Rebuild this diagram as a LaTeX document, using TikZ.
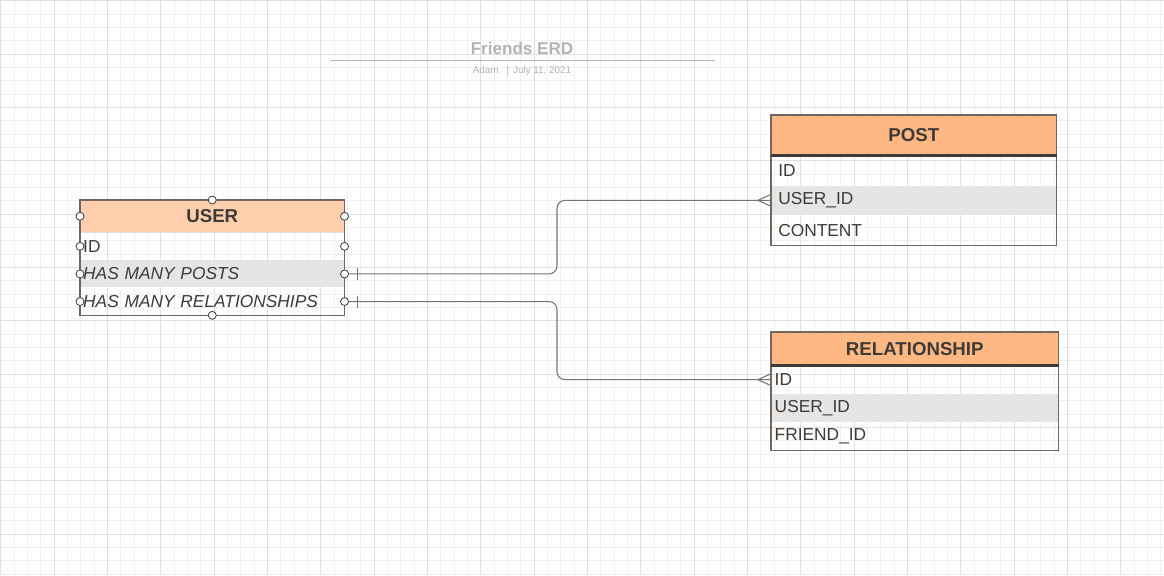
\documentclass[tikz,border=0pt]{standalone}
\usepackage{fontspec}
\setmainfont{Liberation Sans}
\usepackage{xcolor}
\usetikzlibrary{calc}

\definecolor{gridminor}{HTML}{F0F0F0}
\definecolor{gridmajor}{HTML}{E0E0E0}
\definecolor{erdtext}{HTML}{3E3A38}
\definecolor{erdline}{HTML}{72665F}
\definecolor{headlight}{HTML}{FFCFAE}
\definecolor{headdark}{HTML}{FFB783}
\definecolor{rowgray}{HTML}{E5E5E5}
\definecolor{titlegray}{HTML}{B3B3B3}
\definecolor{linkgray}{HTML}{7A7471}

\tikzset{
  erdhead/.style n args={3}{anchor=north west, inner sep=0pt, fill=#1,
    minimum width=#2, minimum height=#3, text=erdtext,
    font=\fontsize{14}{16}\selectfont\bfseries},
  erdrow/.style n args={3}{anchor=north west, inner ysep=0pt, inner xsep=#1,
    text width=#2, minimum height=#3, align=left, text=erdtext,
    font=\fontsize{13}{15}\selectfont},
  shaded/.style={fill=rowgray},
  erdbox/.style={draw=erdline, line width=0.8pt},
  handle/.style={draw=erdtext, fill=white, line width=0.6pt},
  link/.style={draw=linkgray, line width=0.8pt, rounded corners=6pt},
  tick/.style={draw=linkgray, line width=0.8pt},
}

\begin{document}
\begin{tikzpicture}[x=0.75pt,y=-0.75pt]
\useasboundingbox (0,0) rectangle (1164,575);
% background grid
\foreach \i in {0,...,88} \draw[gridminor,line width=0.5pt] ({0.7+\i*13.333},0) -- ({0.7+\i*13.333},575);
\foreach \i in {0,...,43} \draw[gridminor,line width=0.5pt] (0,{0.7+\i*13.333}) -- (1164,{0.7+\i*13.333});
\foreach \i in {0,...,22} \draw[gridmajor,line width=0.6pt] ({0.7+\i*53.333},0) -- ({0.7+\i*53.333},575);
\foreach \i in {0,...,10} \draw[gridmajor,line width=0.6pt] (0,{0.7+\i*53.333}) -- (1164,{0.7+\i*53.333});

% title block
\node[text=titlegray, font=\fontsize{12.8}{14}\selectfont\bfseries] (title) at (522,48) {Friends ERD};
\draw[titlegray, line width=0.6pt] (330,60) -- (715,60);
\node[text=titlegray, font=\fontsize{7.4}{9}\selectfont] (byline) at (522,71) {Adam\hspace{6pt}|\hspace{3pt}July 11, 2021};

% USER
\node[erdhead={headlight}{198pt}{24pt}] (userhead) at (80,200) {USER};
\node[erdrow={2.2pt}{193.6pt}{20.3pt}] (user-id) at (userhead.south west) {ID};
\node[erdrow={2.2pt}{193.6pt}{20.3pt}, shaded] (user-posts) at (user-id.south west) {\itshape HAS MANY POSTS};
\node[erdrow={2.2pt}{193.6pt}{20.3pt}] (user-rels) at (user-posts.south west) {\itshape HAS MANY RELATIONSHIPS};
\draw[erdbox] (userhead.north west) rectangle (user-rels.south east);
\draw[draw=gridmajor, line width=0.8pt] ([xshift=0.4pt]userhead.south west) -- ([xshift=-0.4pt]userhead.south east);

% POST
\node[erdhead={headdark}{213.75pt}{30pt}] (posthead) at (771,115) {POST};
\node[erdrow={5.25pt}{203.25pt}{22pt}] (post-id) at (posthead.south west) {ID};
\node[erdrow={5.25pt}{203.25pt}{22pt}, shaded] (post-userid) at (post-id.south west) {USER\_ID};
\node[erdrow={5.25pt}{203.25pt}{22pt}] (post-content) at (post-userid.south west) {CONTENT};
\draw[erdbox] (posthead.north west) rectangle (post-content.south east);
\draw[erdtext, line width=1.6pt] (posthead.south west) -- (posthead.south east);

% RELATIONSHIP
\node[erdhead={headdark}{215.25pt}{24.75pt}] (relhead) at (771,332) {RELATIONSHIP};
\node[erdrow={2.6pt}{210pt}{20.8pt}] (rel-id) at (relhead.south west) {ID};
\node[erdrow={2.6pt}{210pt}{20.8pt}, shaded] (rel-userid) at (rel-id.south west) {USER\_ID};
\node[erdrow={2.6pt}{210pt}{20.8pt}] (rel-friendid) at (rel-userid.south west) {FRIEND\_ID};
\draw[erdbox] (relhead.north west) rectangle (rel-friendid.south east);
\draw[erdtext, line width=1.6pt] (relhead.south west) -- (relhead.south east);

% connectors
\coordinate (bend) at (557,0);
\draw[link] (user-posts.east) -| (bend |- post-userid.west) -- (post-userid.west);
\draw[link] (user-rels.east) -| (bend |- rel-id.west) -- (rel-id.west);
% one side (bar)
\draw[tick] ($(user-posts.east)+(13,-6)$) -- ++(0,12);
\draw[tick] ($(user-rels.east)+(13,-6)$) -- ++(0,12);
% many side (crow foot)
\draw[tick] ($(post-userid.west)+(0,-6)$) -- ++(-13,6) -- ++(13,6);
\draw[tick] ($(rel-id.west)+(0,-6)$) -- ++(-13,6) -- ++(13,6);

% handles of the selected table
\foreach \a in {userhead.north,userhead.west,userhead.east,user-id.west,user-id.east,
  user-posts.west,user-posts.east,user-rels.west,user-rels.east,user-rels.south}
  \draw[handle] (\a) circle[radius=3pt];
\end{tikzpicture}
\end{document}
